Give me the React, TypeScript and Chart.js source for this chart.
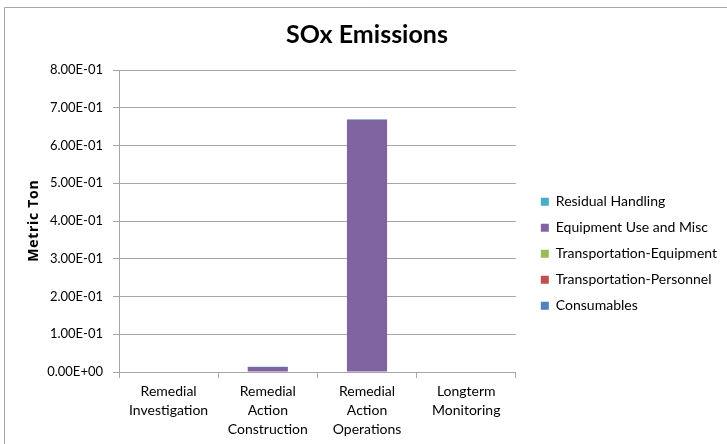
import React, { useEffect, useRef } from "react";
import { Chart, registerables } from "chart.js";

Chart.register(...registerables);

const categories: string[][] = [
  ["Remedial", "Investigation"],
  ["Remedial", "Action", "Construction"],
  ["Remedial", "Action", "Operations"],
  ["Longterm", "Monitoring"],
];

const consumables = [0, 0, 0, 0];
const transportationPersonnel = [0, 0, 0, 0];
const transportationEquipment = [0, 0, 0, 0];
const equipmentUseAndMisc = [0, 0.013, 0.668, 0];
const residualHandling = [0, 0.0008, 0.0015, 0];

const yTicks = [0, 0.1, 0.2, 0.3, 0.4, 0.5, 0.6, 0.7, 0.8];

const chartTitle = "SOx Emissions";
const yAxisTitle = "Metric Ton";

const FONT = "Lato, 'Liberation Sans', sans-serif";

function fmtExp(v: number): string {
  const s = Number(v).toExponential(2);
  const [m, e] = s.split("e");
  const sign = e[0] === "-" ? "-" : "+";
  const digits = e.replace(/^[+-]/, "").padStart(2, "0");
  return `${m}E${sign}${digits}`;
}

const borderPlugin = {
  id: "outerBorder",
  beforeDraw(chart: any) {
    const ctx = chart.ctx;
    ctx.save();
    ctx.fillStyle = "#ffffff";
    ctx.fillRect(0, 0, chart.width, chart.height);
    ctx.strokeStyle = "#a6a6a6";
    ctx.lineWidth = 1;
    ctx.beginPath();
    ctx.moveTo(4.5, chart.height);
    ctx.lineTo(4.5, 7.5);
    ctx.lineTo(chart.width, 7.5);
    ctx.stroke();
    ctx.restore();
  },
};

const yTitlePlugin = {
  id: "yTitleSpaced",
  afterDraw(chart: any) {
    const ctx = chart.ctx;
    const area = chart.chartArea;
    ctx.save();
    ctx.translate(34, (area.top + area.bottom) / 2);
    ctx.rotate(-Math.PI / 2);
    ctx.font = "bold 14px 'Open Sans', sans-serif";
    try {
      (ctx as any).letterSpacing = "0.7px";
    } catch (e) {}
    ctx.fillStyle = "#000";
    ctx.textAlign = "center";
    ctx.textBaseline = "middle";
    ctx.fillText(yAxisTitle, 0.35, 0);
    ctx.restore();
  },
};

export default function App() {
  const ref = useRef<HTMLCanvasElement | null>(null);

  useEffect(() => {
    if (!ref.current) return;
    const chart = new Chart(ref.current, {
      type: "bar",
      data: {
        labels: categories,
        datasets: [
          { label: "Consumables", data: consumables, backgroundColor: "#4F81BD" },
          { label: "Transportation-Personnel", data: transportationPersonnel, backgroundColor: "#C0504D" },
          { label: "Transportation-Equipment", data: transportationEquipment, backgroundColor: "#9BBB59" },
          { label: "Equipment Use and Misc", data: equipmentUseAndMisc, backgroundColor: "#8064A2" },
          { label: "Residual Handling", data: residualHandling, backgroundColor: "#4BACC6" },
        ],
      },
      options: {
        animation: false,
        responsive: false,
        maintainAspectRatio: false,
        datasets: { bar: { barPercentage: 0.405, categoryPercentage: 1 } } as any,
        layout: { padding: { top: 0, left: 7, right: 0, bottom: 0 } },
        plugins: {
          tooltip: { enabled: false },
          title: {
            display: true,
            text: chartTitle,
            color: "#000",
            font: { family: FONT, size: 25, weight: "bold" },
            padding: { top: 20, bottom: 20 },
          },
          legend: {
            position: "right",
            reverse: true,
            maxWidth: 260,
            title: {
              display: true,
              text: " ",
              font: { family: FONT, size: 13 },
              padding: { top: 0, bottom: 48 },
            },
            labels: {
              boxWidth: 8,
              boxHeight: 8,
              padding: 12,
              color: "#000",
              font: { family: FONT, size: 14 },
            },
          } as any,
        },
        scales: {
          x: {
            stacked: true,
            afterFit(scale: any) {
              scale.height = 72;
            },
            grid: {
              display: true,
              drawOnChartArea: false,
              drawTicks: true,
              tickLength: 6,
              color: "#a6a6a6",
              offset: true,
            },
            border: { display: true, color: "#a6a6a6" },
            ticks: {
              color: "#000",
              font: { family: FONT, size: 14, lineHeight: 1.35 },
              maxRotation: 0,
              padding: 4,
            },
          },
          y: {
            stacked: true,
            min: 0,
            max: 0.8,
            afterBuildTicks(axis: any) {
              axis.ticks = yTicks.map((v) => ({ value: v }));
            },
            afterFit(scale: any) {
              scale.width = 112;
            },
            grid: { color: "#a6a6a6", tickLength: 6, lineWidth: 1 },
            border: { display: true, color: "#a6a6a6" },
            ticks: {
              color: "#000",
              font: { family: FONT, size: 13 },
              padding: 10,
              callback: (v: any) => fmtExp(Number(v)),
            },
            title: { display: false },
          },
          gap: {
            type: "linear",
            axis: "y",
            position: "right",
            display: true,
            grid: { display: false, drawTicks: false },
            border: { display: false },
            ticks: { display: false },
            afterFit(scale: any) {
              scale.width = 13;
            },
          } as any,
        },
      },
      plugins: [borderPlugin, yTitlePlugin],
    });
    return () => chart.destroy();
  }, []);

  return (
    <div style={{ position: "fixed", left: 0, top: 0, width: 727, height: 444, background: "#fff" }}>
      <canvas ref={ref} width={727} height={444} style={{ width: 727, height: 444, display: "block" }} />
    </div>
  );
}
